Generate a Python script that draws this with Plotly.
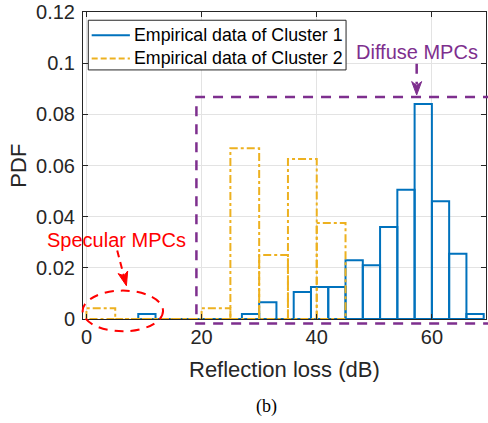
import plotly.graph_objects as go

# ---------------- data ----------------
c1_edges_start = 9
c1_bin_width = 3
c1_pdf = [0.002, 0, 0, 0, 0, 0, 0.002, 0.0065, 0, 0.0106, 0.0125, 0.0125,
          0.023, 0.021, 0.036, 0.0505, 0.084, 0.046, 0.0255, 0.002]

c2_edges_start = 0
c2_bin_width = 5
c2_pdf = [0.0042, 0, 0, 0, 0.0042, 0.0667, 0.025, 0.0625, 0.0375]

x_ticks = [0, 20, 40, 60]
y_ticks = [0, 0.02, 0.04, 0.06, 0.08, 0.1, 0.12]
y_tick_text = ["0", "0.02", "0.04", "0.06", "0.08", "0.1", "0.12"]

series_names = ["Empirical data of Cluster 1", "Empirical data of Cluster 2"]

# ---------------- layout constants ----------------
W, H = 488, 423
ML, MR, MT, MB = 83, 1, 10, 104
PW, PH = W - ML - MR, H - MT - MB
XR = [-0.6, 69.4]
YR = [0, 0.12]

BLUE = "#0072BD"
YELLOW = "#EDB120"
PURPLE = "#7E2F8E"
RED = "#FF0000"
TXT = "#262626"
FONT = "Liberation Sans, Arial, Helvetica, sans-serif"
YDASH = "8px,3px,3px,3px"


def xp(px):
    return (px - ML) / PW


def yp(py):
    return (MT + PH - py) / PH


def dx(v):
    return (v - XR[0]) / (XR[1] - XR[0])


def dy(v):
    return (v - YR[0]) / (YR[1] - YR[0])


def outline(start, width, vals):
    xs, ys = [], []
    for i, h in enumerate(vals):
        l = start + i * width
        r = l + width
        xs += [l, l, r, r, l, None]
        ys += [0, h, h, 0, 0, None]
    return xs, ys


fig = go.Figure()

bx, by = outline(c1_edges_start, c1_bin_width, c1_pdf)
fig.add_trace(go.Scatter(x=bx, y=by, mode="lines", name=series_names[0],
                         line=dict(color=BLUE, width=2), connectgaps=False,
                         showlegend=False))
yx, yy = outline(c2_edges_start, c2_bin_width, c2_pdf)
fig.add_trace(go.Scatter(x=yx, y=yy, mode="lines", name=series_names[1],
                         line=dict(color=YELLOW, width=2, dash=YDASH),
                         connectgaps=False, showlegend=False))

shapes = []
# Diffuse MPCs dashed box (left, top, bottom edges)
bx0, by0, by1, bx1 = 19.1, -0.0018, 0.0868, 80
shapes.append(dict(type="path", xref="paper", yref="paper",
                   path=f"M {dx(bx1)},{dy(by1)} L {dx(bx0)},{dy(by1)} L {dx(bx0)},{dy(by0)} L {dx(bx1)},{dy(by0)}",
                   line=dict(color=PURPLE, width=2.5, dash="10px,8px")))
# Specular MPCs ellipse
shapes.append(dict(type="circle", xref="paper", yref="paper",
                   x0=dx(-0.66), x1=dx(13.3), y0=dy(-0.0048), y1=dy(0.0111),
                   line=dict(color=RED, width=2, dash="9px,7px")))
# red arrow shaft + head
shapes.append(dict(type="line", xref="paper", yref="paper",
                   x0=xp(117.3), y0=yp(250), x1=xp(124), y1=yp(276),
                   line=dict(color=RED, width=2, dash="7px,5px")))
shapes.append(dict(type="path", xref="paper", yref="paper",
                   path=f"M {xp(126.5)},{yp(285.5)} L {xp(118.2)},{yp(273.3)} L {xp(124)},{yp(275.5)} L {xp(127.8)},{yp(270.7)} Z",
                   fillcolor=RED, line=dict(color=RED, width=1)))
# purple arrow shaft + head
shapes.append(dict(type="line", xref="paper", yref="paper",
                   x0=xp(417.5), y0=yp(62), x1=xp(417.5), y1=yp(83),
                   line=dict(color=PURPLE, width=2.5, dash="10px,8px")))
shapes.append(dict(type="path", xref="paper", yref="paper",
                   path=f"M {xp(417.5)},{yp(93.5)} L {xp(412.5)},{yp(80)} L {xp(417.5)},{yp(84)} L {xp(422.5)},{yp(80)} Z",
                   fillcolor=PURPLE, line=dict(color=PURPLE, width=1)))

# custom legend (box, sample lines, labels)
LEG_L, LEG_R, LEG_T, LEG_B = 88.3, 346.7, 18.3, 68.3
ROWS = [33.3, 56.7]
shapes.append(dict(type="rect", xref="paper", yref="paper",
                   x0=xp(LEG_L), x1=xp(LEG_R), y0=yp(LEG_B), y1=yp(LEG_T),
                   fillcolor="white", line=dict(color=TXT, width=1), layer="above"))
shapes.append(dict(type="line", xref="paper", yref="paper",
                   x0=xp(91.7), x1=xp(130), y0=yp(ROWS[0]), y1=yp(ROWS[0]),
                   line=dict(color=BLUE, width=2), layer="above"))
shapes.append(dict(type="line", xref="paper", yref="paper",
                   x0=xp(91.7), x1=xp(130), y0=yp(ROWS[1]), y1=yp(ROWS[1]),
                   line=dict(color=YELLOW, width=2, dash="6px,3px"), layer="above"))

annotations = [
    dict(text=series_names[0], x=xp(132.5), y=yp(ROWS[0]), xref="paper", yref="paper",
         showarrow=False, font=dict(family=FONT, size=17.8, color="#000000"),
         xanchor="left", yanchor="middle"),
    dict(text=series_names[1], x=xp(132.5), y=yp(ROWS[1]), xref="paper", yref="paper",
         showarrow=False, font=dict(family=FONT, size=17.8, color="#000000"),
         xanchor="left", yanchor="middle"),
    dict(text="Specular MPCs", x=xp(116.7), y=yp(239.5), xref="paper", yref="paper",
         showarrow=False, font=dict(family=FONT, size=20, color=RED),
         xanchor="center", yanchor="middle"),
    dict(text="Diffuse MPCs", x=xp(418), y=yp(50), xref="paper", yref="paper",
         showarrow=False, font=dict(family=FONT, size=20, color=PURPLE),
         xanchor="center", yanchor="middle"),
    dict(text="Reflection loss (dB)", x=xp(284.5), y=yp(369.5), xref="paper", yref="paper",
         showarrow=False, font=dict(family=FONT, size=22, color=TXT),
         xanchor="center", yanchor="middle"),
    dict(text="PDF", x=xp(18.5), y=yp(165), xref="paper", yref="paper",
         showarrow=False, textangle=-90, font=dict(family=FONT, size=22, color=TXT),
         xanchor="center", yanchor="middle"),
    dict(text="(b)", x=xp(266.5), y=yp(407.5), xref="paper", yref="paper",
         showarrow=False, font=dict(family="Liberation Serif, Times New Roman, serif", size=18, color="#000000"),
         xanchor="center", yanchor="middle"),
]

axis_common = dict(showline=True, linecolor=TXT, linewidth=1, mirror="ticks",
                   ticks="inside", ticklen=5, tickcolor=TXT, showgrid=True,
                   gridcolor="#e3e3e3", gridwidth=1, zeroline=False,
                   ticklabeloverflow="allow",
                   tickfont=dict(family=FONT, size=20, color=TXT))

fig.update_layout(
    width=W, height=H, margin=dict(l=ML, r=MR, t=MT, b=MB, pad=0),
    paper_bgcolor="white", plot_bgcolor="white",
    xaxis=dict(range=XR, tickvals=x_ticks, ticktext=[str(v) for v in x_ticks], **axis_common),
    yaxis=dict(range=YR, tickvals=y_ticks, ticktext=y_tick_text,
               ticklabelstandoff=3, **axis_common),
    showlegend=False,
    shapes=shapes, annotations=annotations,
)

fig.write_html("out.html")
